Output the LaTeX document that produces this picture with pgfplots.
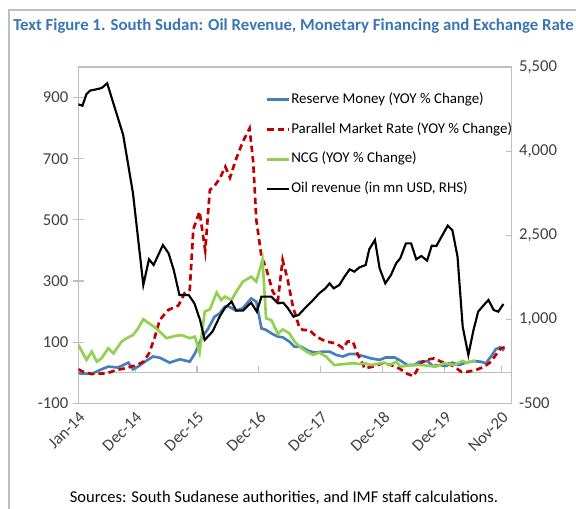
\documentclass[border=0pt]{standalone}
\usepackage{fontspec}
\setmainfont{Carlito}
\usepackage{pgfplots}
\pgfplotsset{compat=1.18}
\definecolor{rmblue}{RGB}{70,128,188}
\definecolor{pmred}{RGB}{192,0,0}
\definecolor{ncggreen}{RGB}{146,208,80}
\definecolor{framegray}{RGB}{191,191,191}
\definecolor{titleblue}{RGB}{58,118,178}
\definecolor{labelgray}{RGB}{64,64,64}

% x = months since Jan-14
\pgfplotstableread{
x y
0 -2
2.6 -4
4.2 9
5.8 20
7.7 17
9.7 33
10.6 11
11.6 20
12.9 36
14.5 53
15.8 49
17.7 33
19.7 44
21.6 36
22.6 63
23.9 113
25.2 145
26.4 183
27.4 194
28.4 216
29.0 218
30.6 203
31.9 211
33.5 243
34.5 232
35.5 145
36.4 140
37.4 129
38.7 118
39.6 116
40.9 102
41.9 85
43.2 85
44.5 72
45.8 66
47.4 69
48.7 69
50.0 58
51.3 53
52.5 61
53.8 61
55.1 55
56.7 47
58.4 42
59.6 50
61.3 50
62.5 39
63.8 25
65.1 25
66.1 36
67.7 38
68.7 22
70.0 25
71.3 22
72.5 33
73.8 25
75.1 33
76.7 38
78.0 36
79.0 31
80.0 53
80.9 77
81.8 83
82.5 72
}\reservemoney

\pgfplotstableread{
x y
0 11
1 3
2.6 -4
5.5 -2
7.4 9
9.0 14
11.3 25
12.6 36
13.7 63
14.8 115
15.8 173
17.4 205
19.4 220
20.6 260
21.6 271
22.3 470
23.5 527
24.6 400
25.5 598
26.4 611
27.4 635
28.5 674
29.4 638
30.6 700
31.9 756
33.2 799
33.9 690
34.5 500
35.5 380
36.4 342
37.7 265
38.7 238
39.6 369
40.6 303
41.6 216
42.9 145
43.6 140
44.8 140
46.1 118
48.0 102
50.0 96
51.3 80
52.2 102
53.2 102
54.2 58
55.1 31
55.5 14
57.1 20
59.0 31
60.6 25
62.2 14
63.8 -4
65.0 -11
66.4 31
67.4 42
69.0 47
70.3 36
71.6 31
72.9 20
74.2 3
75.4 3
77.1 9
78.7 20
80.0 36
80.9 58
81.9 80
83.2 85
}\parallelrate

\pgfplotstableread{
x y
0 91
1.6 42
2.6 69
3.6 36
4.5 47
5.8 80
6.8 63
8.4 102
9.7 116
10.6 123
11.6 145
12.6 175
13.5 164
14.8 149
15.8 134
17.1 113
18.7 120
20.0 123
21.6 113
22.6 118
23.5 66
24.5 200
25.5 207
26.8 262
27.7 238
28.4 249
29.7 238
30.8 270
31.9 298
33.5 314
34.5 298
35.7 369
36.4 178
37.4 172
38.7 127
39.6 142
40.9 129
41.9 102
42.9 85
44.2 69
45.5 58
46.7 66
48.0 53
49.6 25
51.3 28
53.2 31
54.8 28
55.5 31
56.7 25
59.3 33
60.3 25
61.6 36
62.5 20
64.5 25
66.4 25
69.3 20
70.9 31
72.9 25
74.5 39
75.1 33
77.0 40
}\ncg

\pgfplotstableread{
x y
0 4834
0.8 4810
1.6 5020
2.3 5080
3.9 5110
4.6 5130
5.6 5210
8.7 4287
10.6 3246
12.6 1611
13.7 2069
14.6 1968
16.4 2324
17.5 2176
18.5 1878
19.6 1432
21.4 1432
22.5 1284
23.6 986
24.5 630
26.0 778
27.4 1046
28.4 1200
29.7 1313
30.6 1153
31.9 1153
33.5 1296
34.6 1135
35.5 1403
37.4 1403
38.7 1284
39.7 1296
40.6 1200
41.7 1046
42.7 1076
44.2 1224
45.5 1343
46.7 1462
47.9 1551
48.7 1640
49.5 1551
50.6 1611
51.6 1760
52.6 1890
53.5 1849
54.5 1926
55.7 1968
56.4 2250
57.5 2414
58.4 1908
59.5 1640
60.6 1789
61.6 1997
62.4 2087
63.5 2354
64.5 2354
65.5 2069
66.5 2128
67.6 2045
68.5 2312
69.4 2307
70.4 2473
71.6 2669
72.5 2590
73.5 2116
74.5 867
75.6 362
76.6 808
77.5 1135
78.6 1254
79.5 1343
80.5 1165
81.4 1135
82.4 1272
}\oilrevenue

\begin{document}
\begin{tikzpicture}
\pgfplotsset{
  every axis/.append style={
    at={(58.725pt,79.275pt)}, anchor=south west,
    scale only axis, width=325.05pt, height=252.2pt,
    xmin=0, xmax=84,
    ticklabel style={font=\fontsize{12.5}{14}\selectfont, text=labelgray},
    /pgf/number format/assume math mode=true,
  },
}
\begin{axis}[
  ymin=-100, ymax=1000,
  ytick={-100,100,300,500,700,900},
  xtick={0,11,23,35,47,59,71,82},
  xticklabels={Jan-14,Dec-14,Dec-15,Dec-16,Dec-17,Dec-18,Dec-19,Nov-20},
  xtick style={draw=none},
  ytick pos=left, tick align=center,
  major tick length=8pt,
  ytick style={framegray, line width=0.8pt},
  axis line style={framegray, line width=0.9pt},
  xticklabel style={rotate=45, anchor=north east, inner sep=1pt},
  legend style={at={(0.4324,0.925)}, anchor=north west, draw=none, fill=none,
    font=\fontsize{11.2}{13}\selectfont, row sep=11.9pt, inner sep=0pt,
    nodes={inner xsep=0.5pt, inner ysep=0pt, text height=8pt, text depth=2.5pt}},
  legend cell align=left,
  legend image code/.code={\draw[#1] (0pt,0pt) -- (16.5pt,0pt);},
]
\draw[framegray, line width=0.9pt] (axis cs:0,0) -- (axis cs:84,0);
\pgfplotsinvokeforeach{11,23,35,47,59,71,82}{
  \draw[framegray, line width=0.8pt] (axis cs:#1,0) -- ++(0pt,5.25pt);
}
\addplot[rmblue, line width=2pt] table {\reservemoney};
\addlegendentry{Reserve Money (YOY \% Change)}
\addplot[pmred, line width=2pt, dash pattern=on 4.8pt off 3pt] table {\parallelrate};
\addlegendentry{Parallel Market Rate (YOY \% Change)}
\addplot[ncggreen, line width=2pt] table {\ncg};
\addlegendentry{NCG (YOY \% Change)}
\addlegendimage{black, line width=1.6pt}
\addlegendentry{Oil revenue (in mn USD, RHS)}
\end{axis}

\begin{axis}[
  ymin=-500, ymax=5500,
  axis y line*=right, axis x line=none,
  ytick={-500,1000,2500,4000,5500},
  tick align=inside, major tick length=4pt,
  ytick style={framegray, line width=0.8pt},
  axis line style={framegray, line width=0.9pt},
  yticklabel style={/pgf/number format/1000 sep={,}, xshift=2pt},
]
\addplot[black, line width=1.6pt] table {\oilrevenue};
\end{axis}

\node[anchor=base west, inner sep=0pt, text=titleblue,
  font=\fontsize{12.6}{15}\selectfont\bfseries] at (9.75pt,358.9pt)
  {Text Figure 1. South Sudan: Oil Revenue, Monetary Financing and Exchange Rate};
\node[anchor=base, inner sep=0pt, font=\fontsize{12.4}{14}\selectfont, text=black]
  at (213pt,5pt) {Sources: South Sudanese authorities, and IMF staff calculations.};
\draw[framegray, line width=1.1pt] (6.75pt,-5pt) -- (6.75pt,374.25pt) -- (445pt,374.25pt);

\pgfresetboundingbox
\useasboundingbox (0,0) rectangle (432pt,381.75pt);
\end{tikzpicture}
\end{document}
